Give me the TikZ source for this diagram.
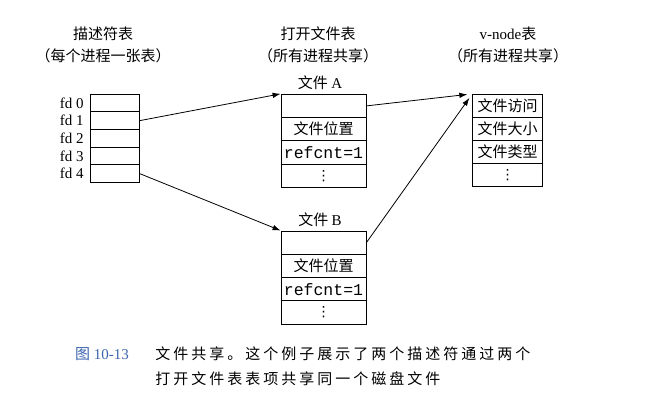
\documentclass[tikz,border=0pt]{standalone}
\usepackage{fontspec}
\usetikzlibrary{arrows.meta}
\setmainfont{Liberation Serif}
\setmonofont{Liberation Mono}
\newfontfamily\cjk{Noto Sans CJK SC}
\newfontfamily\capcjk[LetterSpace=20]{Noto Sans CJK SC}
\newfontfamily\symfont{DejaVu Sans}
\definecolor{figblue}{RGB}{60,100,175}
\tikzset{
  fdrow/.style={draw, minimum width=49pt, minimum height=17.6pt, inner sep=0pt},
  ftrow/.style={draw, minimum width=85pt, minimum height=23.3pt, inner sep=0pt},
  vnrow/.style={draw, minimum width=70pt, minimum height=23.1pt, inner sep=0pt},
  fdlabel/.style={anchor=east, inner sep=0pt, font=\fontsize{15}{16}\selectfont},
  title/.style={inner sep=0pt, font=\cjk\fontsize{15}{17}\selectfont},
  cell/.style={font=\cjk\fontsize{15}{17}\selectfont},
  cnt/.style={font=\ttfamily\fontsize{16.5}{18}\selectfont},
  dots/.style={font=\symfont\fontsize{14}{14}\selectfont},
}
\begin{document}
\begin{tikzpicture}[x=1pt, y=-1pt, >={Latex[length=8pt, width=5.5pt]}, line width=0.8pt]
    \useasboundingbox (0, 0) rectangle (663, 401);

    \node (t-1) at (103, 34) [title] {描述符表};
    \node (s-1) at (103, 56) [title] {（每个进程一张表）};
    \node (t-2) at (318, 34) [title] {打开文件表};
    \node (s-2) at (318, 56) [title] {（所有进程共享）};
    \node (t-3) at (508, 34) [title] {{\rmfamily v-node}表};
    \node (s-3) at (508, 56) [title] {（所有进程共享）};

    \node (fd-0) at (114.5, 103.1) [fdrow] {};
    \node (fd-1) at (114.5, 120.7) [fdrow] {};
    \node (fd-2) at (114.5, 138.3) [fdrow] {};
    \node (fd-3) at (114.5, 155.9) [fdrow] {};
    \node (fd-4) at (114.5, 173.5) [fdrow] {};

    \node (l-0) at (84, 103.1) [fdlabel] {fd 0};
    \node (l-1) at (84, 120.7) [fdlabel] {fd 1};
    \node (l-2) at (84, 138.3) [fdlabel] {fd 2};
    \node (l-3) at (84, 155.9) [fdlabel] {fd 3};
    \node (l-4) at (84, 173.5) [fdlabel] {fd 4};

    \node (n-a) at (320, 83) [title] {文件 {\rmfamily A}};
    \node (a-1) at (323.5, 105.9) [ftrow] {};
    \node (a-2) at (323.5, 129.2) [ftrow, cell] {文件位置};
    \node (a-3) at (323.5, 152.5) [ftrow, cnt] {refcnt=1};
    \node (a-4) at (323.5, 175.8) [ftrow, dots] {⋮};

    \node (n-b) at (320, 220) [title] {文件 {\rmfamily B}};
    \node (b-1) at (323.5, 242.6) [ftrow] {};
    \node (b-2) at (323.5, 265.9) [ftrow, cell] {文件位置};
    \node (b-3) at (323.5, 289.2) [ftrow, cnt] {refcnt=1};
    \node (b-4) at (323.5, 312.5) [ftrow, dots] {⋮};

    \node (v-1) at (507.7, 105.8) [vnrow, cell] {文件访问};
    \node (v-2) at (507.7, 128.9) [vnrow, cell] {文件大小};
    \node (v-3) at (507.7, 152) [vnrow, cell] {文件类型};
    \node (v-4) at (507.7, 175.1) [vnrow, dots] {⋮};

    \draw[->] (fd-1.east) -- (a-1.north west);
    \draw[->] (fd-4.east) -- (b-1.north west);
    \draw[->, shorten >=5pt] (a-1.east) -- (v-1.north west);
    \draw[->, shorten >=5pt] (b-1.east) -- (v-1.north west);

    \node (fig) at (102, 354) [inner sep=0pt, text=figblue, font=\fontsize{15}{17}\selectfont] {{\cjk 图} 10-13};
    \node (cap-1) at (155, 354) [anchor=west, inner sep=0pt, font=\capcjk\fontsize{15}{17}\selectfont] {文件共享。这个例子展示了两个描述符通过两个};
    \node (cap-2) at (155, 379) [anchor=west, inner sep=0pt, font=\capcjk\fontsize{15}{17}\selectfont] {打开文件表表项共享同一个磁盘文件};

\end{tikzpicture}
\end{document}
